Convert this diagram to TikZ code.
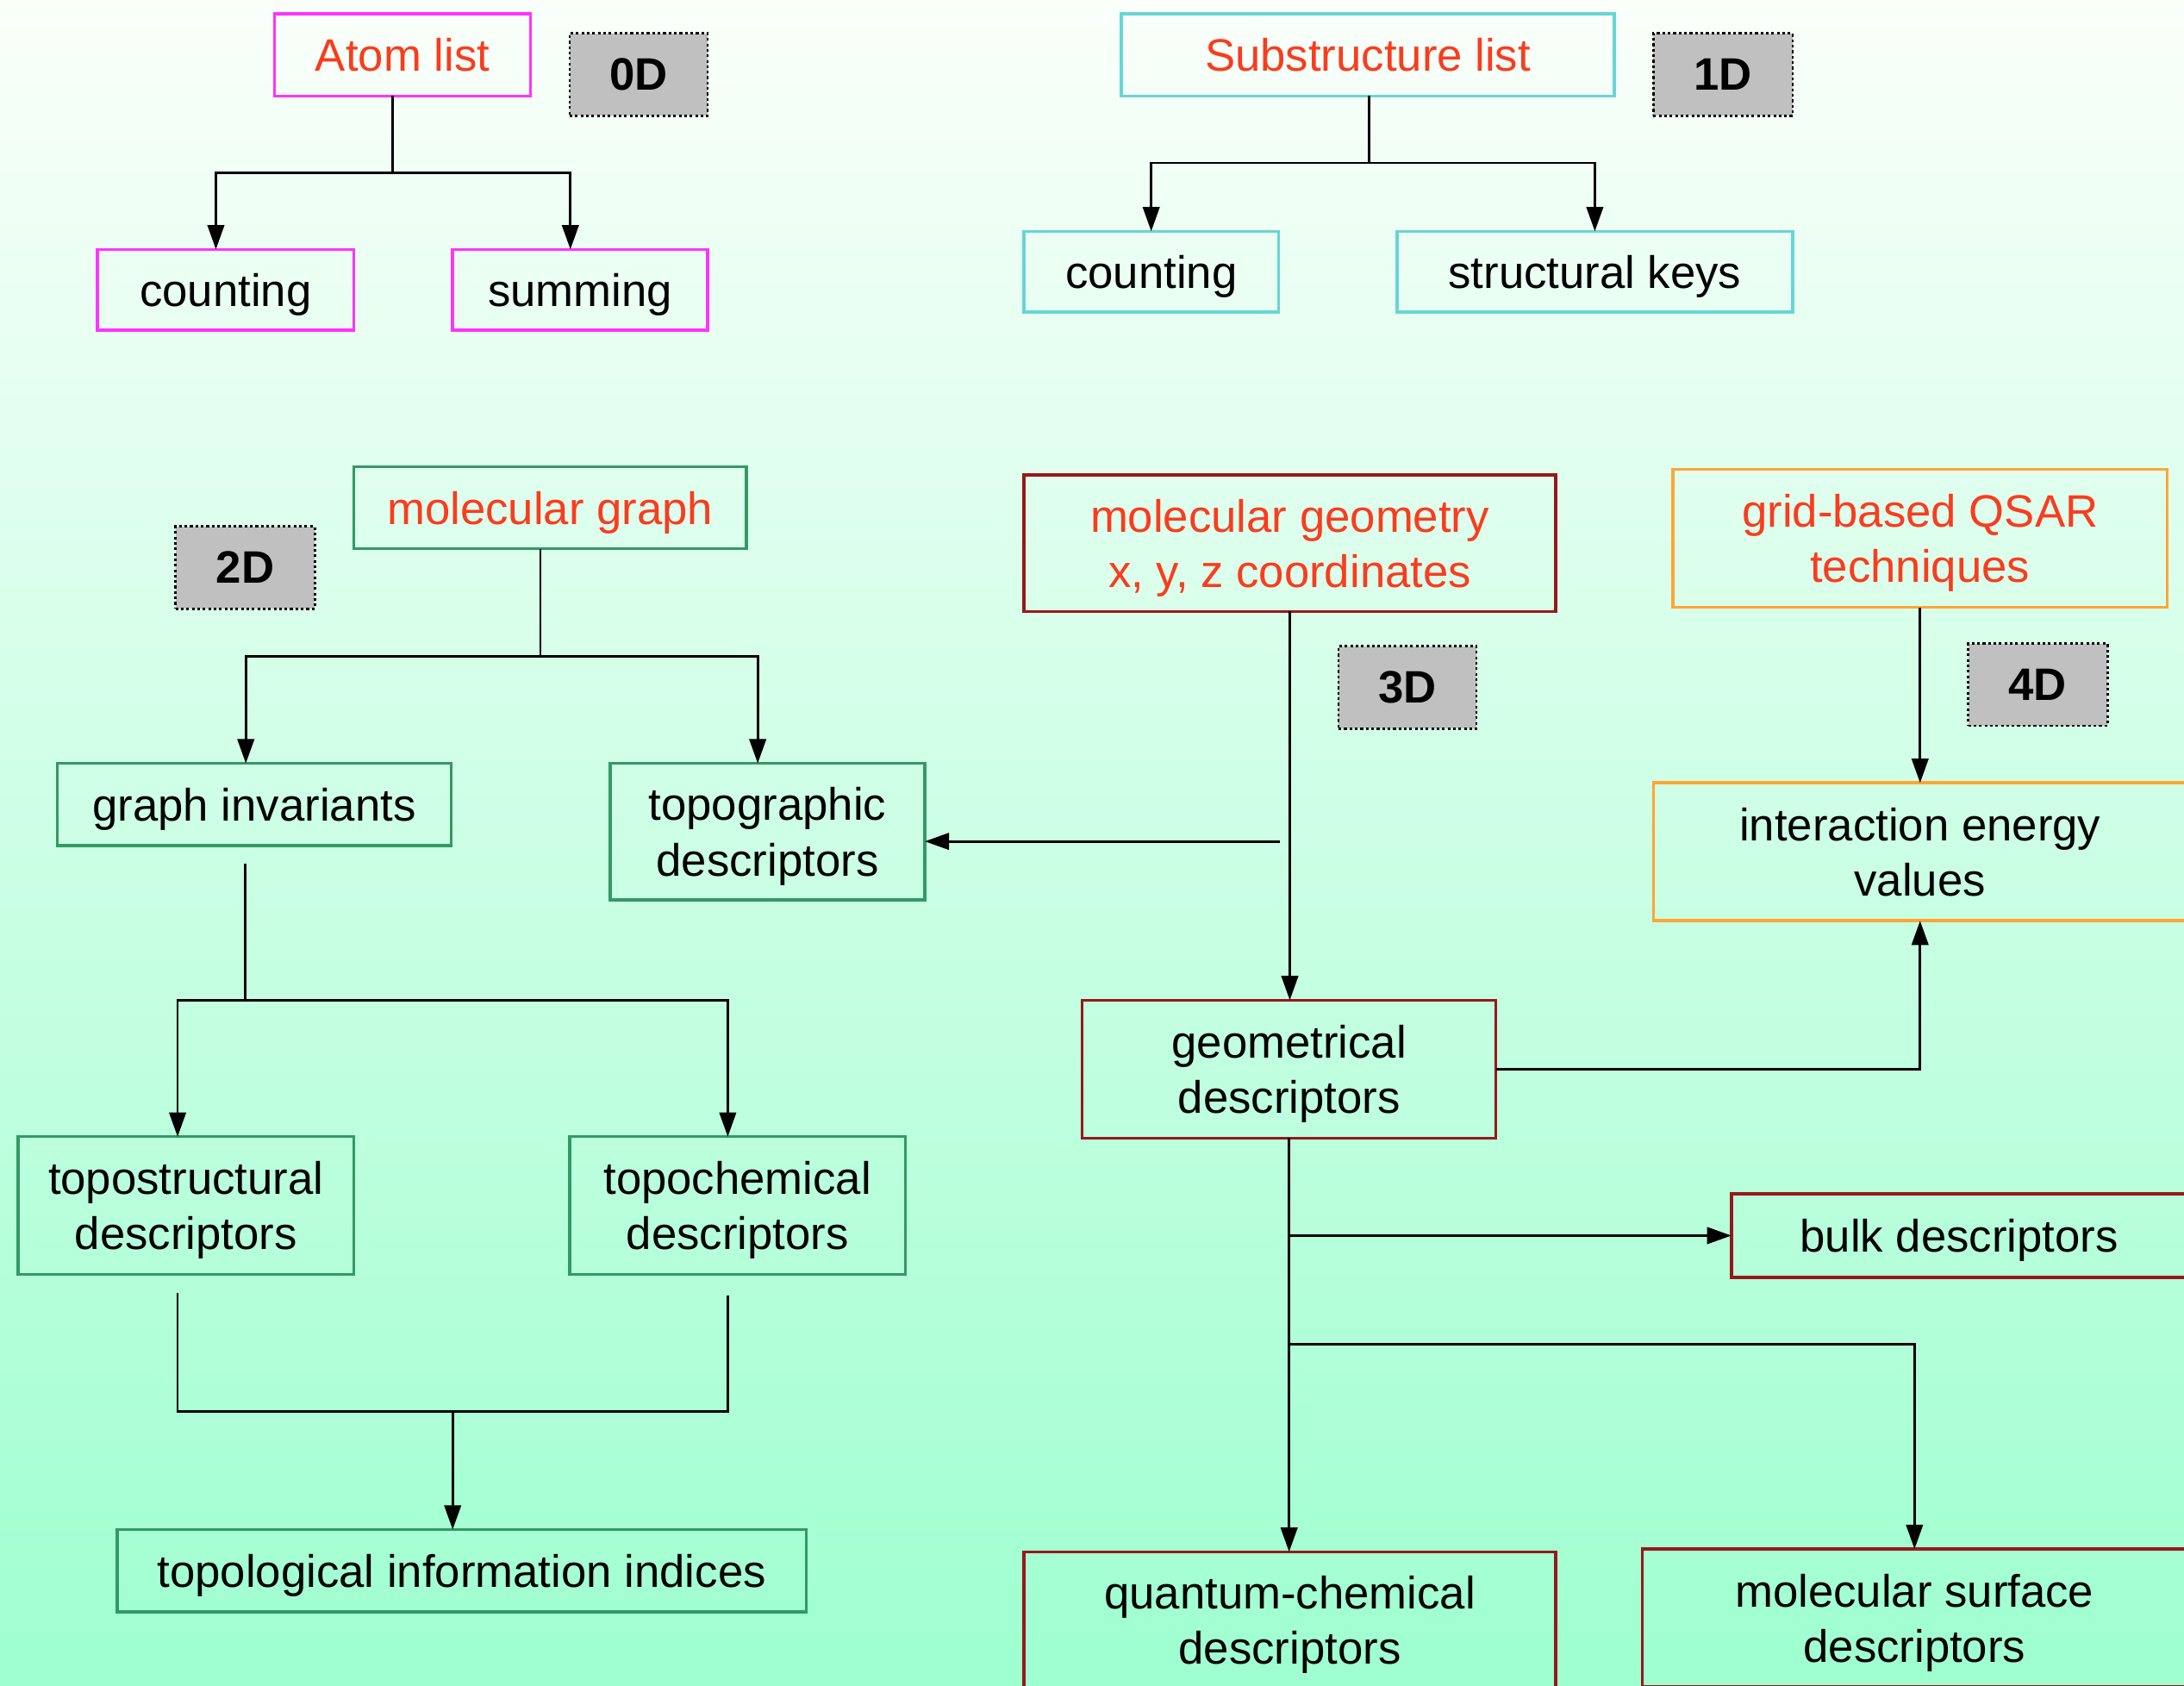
\documentclass[tikz,border=0pt]{standalone}
\usepackage{fontspec}
\setmainfont{Liberation Sans}
\usetikzlibrary{arrows.meta,calc}

\definecolor{bgtop}{RGB}{250,255,250}
\definecolor{bgbot}{RGB}{158,255,208}
\definecolor{titlered}{RGB}{250,60,30}
\definecolor{magentaline}{RGB}{255,51,255}
\definecolor{cyanline}{RGB}{102,214,214}
\definecolor{greenline}{RGB}{51,153,102}
\definecolor{darkredline}{RGB}{150,25,25}
\definecolor{orangeline}{RGB}{255,165,51}
\definecolor{labgray}{RGB}{192,192,192}

\tikzset{
  % place a box by its left, top, right and bottom edges
  area/.style n args={4}{at={({(#1+#3)/2},{(#2+#4)/2})},
    minimum width={(#3-#1)*0.01616cm}, minimum height={(#4-#2)*0.01616cm}},
  box/.style={draw, line width=1pt, inner sep=0pt, outer sep=0pt, align=center,
    text depth=0pt, font=\fontsize{15}{18.3}\selectfont},
  title/.style={text=titlered},
  zeroD/.style={box, draw=magentaline},
  oneD/.style={box, draw=cyanline},
  twoD/.style={box, draw=greenline},
  threeD/.style={box, draw=darkredline},
  fourD/.style={box, draw=orangeline},
  dimlabel/.style={draw=black, fill=labgray, line width=0.8pt,
    dash pattern=on 0.9pt off 0.9pt, inner sep=0pt,
    font=\fontsize{15}{18}\selectfont\bfseries},
  link/.style={draw=black, line width=0.8pt},
  arr/.style={link, -{Triangle[length=8pt,width=5.5pt]}}
}

\begin{document}
\begin{tikzpicture}[x=0.01616cm, y=-0.01616cm]
\useasboundingbox (0,0) rectangle (1568,1210);
\clip (0,0) rectangle (1568,1210);
\shade[top color=bgtop, bottom color=bgbot] (0,0) rectangle (1568,1210);

% ---- 0D: atom list
\node[zeroD, title, area={197}{10}{381}{69}] (atom) {Atom list};
\node[dimlabel, area={409}{24}{508}{83}] (lab0) {0D};
\node[zeroD, area={70}{179}{254}{237}] (cntA) {counting};
\node[zeroD, area={325}{179}{508}{237}] (sum) {summing};

% ---- 1D: substructure list
\node[oneD, title, area={805}{10}{1159}{69}] (sub) {Substructure list};
\node[dimlabel, area={1187}{24}{1287}{83}] (lab1) {1D};
\node[oneD, area={735}{166}{918}{224}] (cntB) {counting};
\node[oneD, area={1003}{166}{1287}{224}] (keys) {structural keys};

% ---- 2D: molecular graph
\node[twoD, title, area={254}{335}{536}{394}] (mg) {molecular graph};
\node[dimlabel, area={126}{378}{226}{437}] (lab2) {2D};
\node[twoD, area={41}{548}{324}{607}] (ginv) {graph invariants};
\node[twoD, area={438}{548}{664}{646}] (topo) {topographic\\descriptors};
\node[twoD, area={13}{816}{254}{915}] (tstr) {topostructural\\descriptors};
\node[twoD, area={409}{816}{650}{915}] (tchem) {topochemical\\descriptors};
\node[twoD, area={84}{1098}{579}{1157}] (tii) {topological information indices};

% ---- 3D: molecular geometry
\node[threeD, title, area={735}{341}{1117}{439}] (geo) {molecular geometry\\x, y, z coordinates};
\node[dimlabel, area={961}{464}{1060}{523}] (lab3) {3D};
\node[threeD, area={777}{718}{1074}{817}] (gdesc) {geometrical\\descriptors};
\node[threeD, area={1243}{857}{1570}{917}] (bulk) {bulk descriptors};
\node[threeD, area={735}{1114}{1117}{1212}] (qc) {quantum-chemical\\descriptors};
\node[threeD, area={1179}{1112}{1570}{1211}] (msd) {molecular surface\\descriptors};

% ---- 4D: grid-based QSAR
\node[fourD, title, area={1201}{337}{1556}{436}] (grid) {grid-based QSAR\\techniques};
\node[dimlabel, area={1413}{462}{1513}{521}] (lab4) {4D};
\node[fourD, area={1187}{562}{1570}{661}] (ie) {interaction energy\\values};

% ---- connectors
\coordinate (j0) at (282,124);
\draw[link] (atom.south -| j0) -- (j0);
\draw[arr] (j0) -| ($(cntA.north)+(-7,0)$);
\draw[arr] (j0) -| ($(sum.north)+(-7,0)$);

\coordinate (j1) at (983,117);
\draw[link] (sub.south -| j1) -- (j1);
\draw[arr] (j1) -| (cntB.north);
\draw[arr] (j1) -| (keys.north);

\coordinate (j2) at (388,471);
\draw[link] (mg.south -| j2) -- (j2);
\draw[arr] (j2) -| ($(ginv.north)+(-6,0)$);
\draw[arr] (j2) -| ($(topo.north)+(-7,0)$);

\coordinate (j3) at (176,718);
\draw[link] ($(ginv.south -| j3)+(0,13)$) -- (j3);
\draw[arr] (j3) -| ($(tstr.north)+(-6,0)$);
\draw[arr] (j3) -| ($(tchem.north)+(-7,0)$);

\coordinate (j4) at (325,1013);
\draw[link] ($(tstr.south)+(-6,13)$) |- (j4) -| ($(tchem.south)+(-7,15)$);
\draw[arr] (j4) -- (tii.north -| j4);

\draw[arr] (geo.south) -- (gdesc.north -| geo.south);
\coordinate (j5) at (919,604);
\draw[arr] (j5) -- (topo.east |- j5);

\draw[arr] (grid.south) -- (ie.north -| grid.south);
\draw[arr] (gdesc.east) -| (ie.south -| grid.south);

\draw[arr] (gdesc.south) -- (qc.north -| gdesc.south);
\coordinate (j6) at (926,887);
\coordinate (j7) at (926,965);
\draw[arr] (j6) -- (bulk.west |- j6);
\draw[arr] (j7) -| (msd.north);
\end{tikzpicture}
\end{document}
